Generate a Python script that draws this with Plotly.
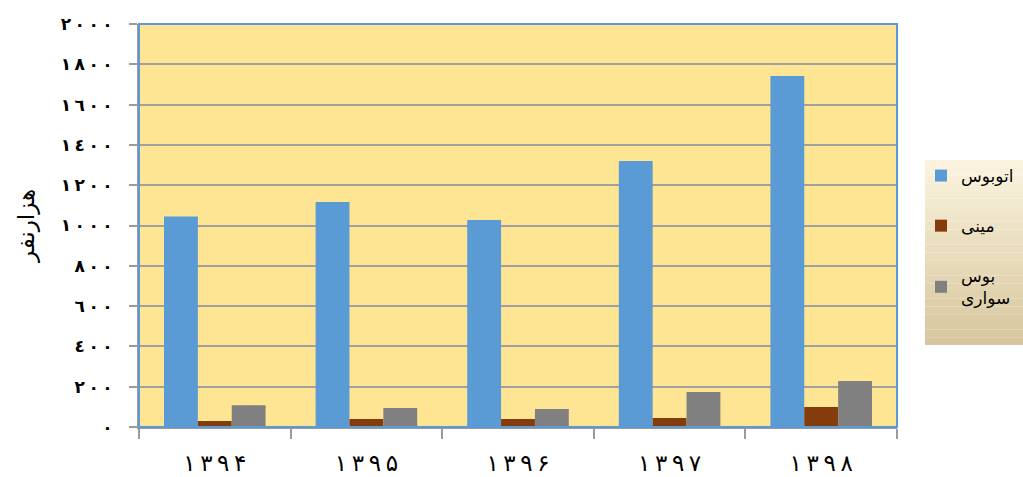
import plotly.graph_objects as go

years = ["۱۳۹۴", "۱۳۹۵", "۱۳۹۶", "۱۳۹۷", "۱۳۹۸"]
bus = [1045, 1117, 1027, 1320, 1742]
minibus = [30, 40, 40, 45, 99]
car = [108, 94, 89, 174, 228]
series_names = ["اتوبوس", "مینی", "بوس<br>سواری"]
y_vals = [0, 200, 400, 600, 800, 1000, 1200, 1400, 1600, 1800, 2000]
y_text = ["٠", "٢٠٠", "٤٠٠", "٦٠٠", "٨٠٠", "١٠٠٠", "١٢٠٠", "١٤٠٠", "١٦٠٠", "١٨٠٠", "٢٠٠٠"]
colors = ["#5b9bd5", "#843c0c", "#808080"]

def spaced(s):
    # LRM keeps digit order stable when spacing Arabic-Indic digits
    return "\u200e\u2009".join(list(s))

fig = go.Figure()
for i, (name, vals) in enumerate(zip(series_names, [bus, minibus, car])):
    fig.add_trace(go.Bar(
        x=[spaced(y) for y in years], y=vals, name=name,
        marker=dict(color=colors[i], line=dict(width=0)),
        legendgroup=str(i),
    ))

W, H = 1023, 477
# legend background gradient box, pixel 925..1023 x 160..345
n = 24
c_top = (251, 243, 222)
c_bot = (216, 199, 158)
shapes = []
for k in range(n):
    t = k / (n - 1)
    c = tuple(int(c_top[j] + (c_bot[j] - c_top[j]) * t) for j in range(3))
    py_top = 160 + (345 - 160) * k / n
    py_bot = 160 + (345 - 160) * (k + 1) / n
    shapes.append(dict(type="rect", xref="paper", yref="paper",
                       x0=(925 - 139) / 758, x1=(1023 - 139) / 758,
                       y0=(427 - py_bot) / 403, y1=(427 - py_top) / 403,
                       line=dict(width=0),
                       fillcolor="rgb(%d,%d,%d)" % c, layer="below"))
# plot border (blue)
shapes.append(dict(type="rect", xref="paper", yref="paper", x0=0, x1=1, y0=0, y1=1,
                   line=dict(color="#5b9bd5", width=2), layer="above"))

fig.update_layout(
    width=W, height=H,
    margin=dict(l=139, r=126, t=24, b=50),
    paper_bgcolor="white",
    plot_bgcolor="#fee594",
    barmode="group", bargap=0.33, bargroupgap=0,
    shapes=shapes,
    font=dict(family="DejaVu Sans", color="black"),
    legend=dict(xref="container", yref="container",
                x=921 / W, y=1 - 158 / H, xanchor="left", yanchor="top",
                bgcolor="rgba(0,0,0,0)", font=dict(size=17, family="DejaVu Sans"),
                tracegroupgap=25, itemwidth=30),
    showlegend=True,
)
fig.update_xaxes(
    automargin=False,
    showline=True, linecolor="#9a9a9a", linewidth=2,
    ticks="outside", tickson="boundaries", ticklen=10, tickcolor="#9a9a9a", tickwidth=2,
    tickfont=dict(size=23, family="DejaVu Sans"), ticklabelstandoff=14,
    showgrid=False,
)
fig.update_yaxes(
    automargin=False,
    range=[0, 2000], tickvals=y_vals, ticktext=[spaced(t) for t in y_text],
    showline=True, linecolor="#9a9a9a", linewidth=2,
    ticks="outside", ticklen=8, tickcolor="#9a9a9a", tickwidth=2,
    tickfont=dict(size=17, family="DejaVu Sans", weight="bold"), ticklabelstandoff=13,
    showgrid=True, gridcolor="#a0a0a0", gridwidth=2, zeroline=False,
    title=dict(text="هزارنفر", font=dict(size=23, family="DejaVu Sans"), standoff=20),
)
post = ("document.body.style.margin='0px';document.body.style.overflow='hidden';"
        "var gd=document.getElementById('{plot_id}');"
        "Plotly.relayout(gd,{width:1023,height:477});")
fig.write_html("out.html", post_script=post, config={"displayModeBar": False})
